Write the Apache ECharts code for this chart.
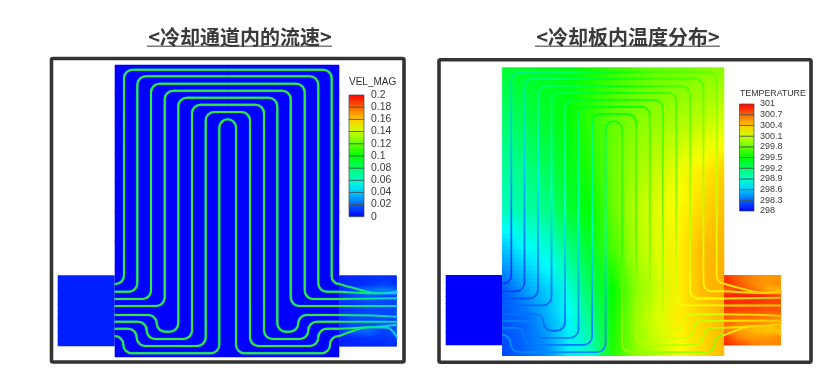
<!DOCTYPE html>
<html>
<head>
<meta charset="utf-8">
<style>
  html, body { margin: 0; padding: 0; background: #fff; }
  #chart { width: 831px; height: 375px; }
</style>
<script src="https://cdn.jsdelivr.net/npm/echarts@6/dist/echarts.min.js"></script>
</head>
<body>
<div id="chart"></div>
<script>
// legend tick labels, bottom to top
const velTicks = ['0', '0.02', '0.04', '0.06', '0.08', '0.1', '0.12', '0.14', '0.16', '0.18', '0.2'];
const tempTicks = ['298', '298.3', '298.6', '298.9', '299.2', '299.5', '299.8', '300.1', '300.4', '300.7', '301'];

// model extent: inlet 0-57, plate 57-281.6, outlet 281.6-339, height 0-292.6
const inletX = [0, 57];
const portY = [210.6, 281.6];
const plateX = [57, 79.5, 102, 124.4, 146.8, 169.3, 191.8, 214.2, 236.6, 259.1, 281.6];
const plateY = [0, 53, 104, 145, 185, 226, 256, 292.6];
const outletX = [281.6, 296, 310, 325, 339];
const outletY = [210.6, 219.5, 225.5, 231.5, 238.5, 245.5, 252.5, 259.5, 266.5, 273.5, 281.6];

// temperature
const tempPlate = [
  [299.35, 299.4, 299.42, 299.45, 299.55, 299.65, 299.73, 299.8, 299.82, 299.87, 299.9],
  [299.18, 299.27, 299.38, 299.47, 299.65, 299.8, 299.88, 299.94, 300, 300.05, 300.12],
  [299.05, 299.1, 299.25, 299.42, 299.58, 299.82, 299.97, 300.08, 300.2, 300.3, 300.38],
  [298.95, 299, 299.1, 299.35, 299.5, 299.8, 300.03, 300.17, 300.27, 300.37, 300.44],
  [298.55, 298.73, 298.85, 299.1, 299.4, 299.7, 300, 300.15, 300.3, 300.45, 300.47],
  [298.25, 298.45, 298.6, 298.85, 299.25, 299.5, 299.9, 300.1, 300.3, 300.45, 300.5],
  [298.25, 298.3, 298.5, 298.72, 299.1, 299.55, 299.95, 300.15, 300.3, 300.37, 300.47],
  [298.2, 298.3, 298.4, 298.7, 298.9, 299.6, 299.9, 300.05, 300.25, 300.35, 300.45]
];
const tempOutlet = [
  [300.85, 300.7, 300.6, 300.55, 300.55],
  [300.9, 300.75, 300.6, 300.55, 300.6],
  [300.7, 300.8, 300.7, 300.5, 300.45],
  [300.9, 300.9, 300.9, 300.85, 300.8],
  [300.9, 300.85, 300.85, 300.8, 300.8],
  [300.85, 300.8, 300.8, 300.75, 300.75],
  [300.75, 300.7, 300.7, 300.65, 300.65],
  [300.7, 300.6, 300.6, 300.55, 300.5],
  [300.65, 300.55, 300.45, 300.4, 300.45],
  [300.85, 300.6, 300.55, 300.55, 300.6],
  [300.9, 300.8, 300.65, 300.6, 300.6]
];
const tempInlet = [[298, 298], [298, 298]];

// velocity
const velPlate = [[0, 0], [0, 0]];
const velInlet = [[0.006, 0.006], [0.006, 0.006]];
const velOutlet = [
  [0.006, 0.008, 0.009, 0.01, 0.008],
  [0.007, 0.008, 0.009, 0.012, 0.009],
  [0.008, 0.014, 0.022, 0.026, 0.022],
  [0.01, 0.014, 0.018, 0.014, 0.014],
  [0.01, 0.011, 0.014, 0.014, 0.014],
  [0.01, 0.011, 0.014, 0.014, 0.014],
  [0.01, 0.014, 0.014, 0.014, 0.014],
  [0.01, 0.014, 0.014, 0.018, 0.014],
  [0.01, 0.018, 0.022, 0.012, 0.018],
  [0.007, 0.008, 0.01, 0.01, 0.012],
  [0.006, 0.007, 0.007, 0.008, 0.008]
];

// cooling channels, one leg from each side up to the middle of the top run
const leftLegs = [
  [[57, 219.3], [66.3, 219.3], [66.3, 5], [170, 5]],
  [[57, 227], [79.6, 227], [79.6, 11.6], [170, 11.6]],
  [[57, 234.3], [93.3, 234.3], [93.3, 19], [170, 19]],
  [[57, 241.3], [107, 241.3], [107, 26], [170, 26]],
  [[57, 250.3], [99, 250.3], [99, 267], [120.6, 267], [120.6, 33], [170, 33]],
  [[57, 257], [89, 257], [89, 274.3], [134.3, 274.3], [134.3, 40], [170, 40]],
  [[57, 264], [79, 264], [79, 281.3], [148, 281.3], [148, 47.3], [170, 47.3]],
  [[57, 271.3], [65.6, 271.3], [65.6, 288.6], [161.6, 288.6], [161.6, 54.6], [170, 54.6]]
];
const rightLegs = [
  [[281.6, 219.3], [274, 219.3], [274, 5], [170, 5]],
  [[281.6, 227], [260.6, 227], [260.6, 11.6], [170, 11.6]],
  [[281.6, 234.3], [247, 234.3], [247, 19], [170, 19]],
  [[281.6, 241.3], [233, 241.3], [233, 26], [170, 26]],
  [[281.6, 250.3], [240.6, 250.3], [240.6, 267], [219.6, 267], [219.6, 33], [170, 33]],
  [[281.6, 257], [250.6, 257], [250.6, 274.3], [206.3, 274.3], [206.3, 40], [170, 40]],
  [[281.6, 264], [260.6, 264], [260.6, 281.3], [192.3, 281.3], [192.3, 47.3], [170, 47.3]],
  [[281.6, 271.3], [272.3, 271.3], [272.3, 288.6], [178.3, 288.6], [178.3, 54.6], [170, 54.6]]
];
// streams leaving through the outlet
const outletStreams = [
  [[281.6, 219.3], [297, 223.6], [320, 228.6], [339, 227]],
  [[281.6, 227], [320, 228.6], [339, 228.6]],
  [[281.6, 234.3], [339, 233.6]],
  [[281.6, 241.3], [339, 241.3]],
  [[281.6, 250.3], [320, 251], [339, 252]],
  [[281.6, 257], [339, 257]],
  [[281.6, 264], [320, 262], [339, 260.3]],
  [[281.6, 271.3], [290, 268], [310, 262.5], [330, 263], [339, 272]]
];

// coolant temperature along each leg: near the port, halfway, corner, top middle
const coolantLeftPort = [298.15, 298.2, 298.25, 298.3, 298.3, 298.35, 298.35, 298.4];
const coolantLeftHalf = [298.55, 298.6, 298.7, 298.8, 298.85, 298.9, 298.95, 299];
const coolantRightPort = [300.3, 300.28, 300.25, 300.2, 300.15, 300.1, 300.05, 299.95];
const coolantRightHalf = [300.05, 300, 299.95, 299.9, 299.85, 299.8, 299.75, 299.65];
const coolantLeftCorner = 299.2;
const coolantRightCorner = 299.7;
const coolantMiddle = 299.45;

const rainbow = [[0, [0, 0, 255]], [0.25, [0, 255, 255]], [0.5, [0, 255, 0]], [0.75, [255, 255, 0]], [1, [255, 0, 0]]];

function rainbowColor(t) {
  t = Math.max(0, Math.min(1, t));
  for (let i = 1; i < rainbow.length; i++) {
    if (t <= rainbow[i][0]) {
      const a = rainbow[i - 1], b = rainbow[i];
      const f = (t - a[0]) / (b[0] - a[0]);
      const c = a[1].map((v, k) => Math.round(v + (b[1][k] - v) * f));
      return 'rgb(' + c.join(',') + ')';
    }
  }
  return 'rgb(255,0,0)';
}
const velColor = v => rainbowColor(v / 0.2);
const tempColor = v => rainbowColor((v - 298) / 3);

// smooth shading of one field block: strips down the rows, gradient along the columns
function fieldRender(patches, colorOf) {
  return function (params, api) {
    const p = patches[api.value(0)];
    const children = [];
    const x0 = api.coord([p.x[0], 0])[0];
    const x1 = api.coord([p.x[p.x.length - 1], 0])[0];
    const steps = 10;
    for (let r = 0; r < p.y.length - 1; r++) {
      for (let s = 0; s < steps; s++) {
        const f = s / steps;
        const yA = api.coord([0, p.y[r] + (p.y[r + 1] - p.y[r]) * f])[1];
        const yB = api.coord([0, p.y[r] + (p.y[r + 1] - p.y[r]) * (f + 1 / steps)])[1];
        const last = r === p.y.length - 2 && s === steps - 1;
        const stops = p.x.map((x, c) => ({
          offset: (x - p.x[0]) / (p.x[p.x.length - 1] - p.x[0]),
          color: colorOf(p.v[r][c] + (p.v[r + 1][c] - p.v[r][c]) * (f + 0.5 / steps))
        }));
        children.push({
          type: 'rect',
          shape: { x: x0, y: yA, width: x1 - x0, height: yB - yA + (last ? 0 : 1) },
          style: { fill: { type: 'linear', x: 0, y: 0, x2: 1, y2: 0, colorStops: stops } }
        });
      }
    }
    return { type: 'group', children: children };
  };
}

function roundedPath(pts, radius) {
  let d = 'M' + pts[0][0] + ' ' + pts[0][1];
  for (let i = 1; i < pts.length - 1; i++) {
    const a = pts[i - 1], b = pts[i], c = pts[i + 1];
    const lenIn = Math.hypot(b[0] - a[0], b[1] - a[1]);
    const lenOut = Math.hypot(c[0] - b[0], c[1] - b[1]);
    const r = Math.min(radius, i === 1 ? lenIn : lenIn / 2, i === pts.length - 2 ? lenOut : lenOut / 2);
    const s = [b[0] + (a[0] - b[0]) * r / lenIn, b[1] + (a[1] - b[1]) * r / lenIn];
    const e = [b[0] + (c[0] - b[0]) * r / lenOut, b[1] + (c[1] - b[1]) * r / lenOut];
    const k = 0.55;
    d += 'L' + s[0] + ' ' + s[1];
    d += 'C' + (s[0] + (b[0] - s[0]) * k) + ' ' + (s[1] + (b[1] - s[1]) * k) + ' ' +
      (e[0] + (b[0] - e[0]) * k) + ' ' + (e[1] + (b[1] - e[1]) * k) + ' ' + e[0] + ' ' + e[1];
  }
  const end = pts[pts.length - 1];
  return d + 'L' + end[0] + ' ' + end[1];
}

const allLegs = leftLegs.concat(rightLegs);

function legRender(strokeOf, width, blur) {
  return function (params, api) {
    const i = api.value(0);
    const pts = allLegs[i].map(p => api.coord(p));
    return {
      type: 'path',
      shape: { pathData: roundedPath(pts, 8.5) },
      style: { fill: 'none', stroke: strokeOf(i, pts), lineWidth: width, shadowBlur: blur.size, shadowColor: blur.color }
    };
  };
}

// the gradient runs from the bottom of the long vertical run to the top middle
function coolantStroke(i, pts) {
  const side = i < 8 ? 0 : 1;
  const k = i % 8;
  const end = pts[pts.length - 1];
  const vx = pts[pts.length - 2][0];
  const bottom = Math.max.apply(null, pts.map(p => p[1]));
  const temps = side === 0
    ? [coolantLeftPort[k], coolantLeftHalf[k], coolantLeftCorner, coolantMiddle]
    : [coolantRightPort[k], coolantRightHalf[k], coolantRightCorner, coolantMiddle];
  return {
    type: 'linear', global: true, x: vx, y: bottom, x2: end[0], y2: end[1],
    colorStops: [0, 0.5, 0.92, 1].map((o, n) => ({ offset: o, color: tempColor(temps[n]) }))
  };
}

function bandRender(colorOf) {
  return function (params, api) {
    const i = api.value(0);
    const a = api.coord([0, i]);
    const b = api.coord([1, i + 1]);
    return {
      type: 'rect',
      shape: { x: a[0], y: b[1], width: b[0] - a[0], height: a[1] - b[1] },
      style: {
        fill: { type: 'linear', x: 0, y: 1, x2: 0, y2: 0, colorStops: [
          { offset: 0, color: colorOf(i / 10) },
          { offset: 1, color: colorOf((i + 1) / 10) }
        ] },
        stroke: '#3c4a48', lineWidth: 0.7
      }
    };
  };
}

const velPatches = [
  { x: inletX, y: portY, v: velInlet },
  { x: [57, 281.6], y: [0, 292.6], v: velPlate },
  { x: outletX, y: outletY, v: velOutlet }
];
const tempPatches = [
  { x: inletX, y: portY, v: tempInlet },
  { x: plateX, y: plateY, v: tempPlate },
  { x: outletX, y: outletY, v: tempOutlet }
];

const legIds = allLegs.map((l, i) => [i]);
const green = () => '#34e83e';
const velGradient = new echarts.graphic.LinearGradient(0, 0, 1, 0, [
  { offset: 0, color: '#34e83e' },
  { offset: 0.55, color: '#00e890' },
  { offset: 1, color: '#20c0ff' }
]);
const tempGradient = new echarts.graphic.LinearGradient(0, 0, 1, 0, [
  { offset: 0, color: '#ffe600' },
  { offset: 0.5, color: '#ffd800' },
  { offset: 1, color: '#ffc400' }
]);

function streamSeries(axis, gradient) {
  return outletStreams.map(s => ({
    type: 'line', xAxisIndex: axis, yAxisIndex: axis, data: s, symbol: 'none', smooth: 0.3,
    silent: true, z: 4, lineStyle: { color: gradient, width: 2, cap: 'round' }
  }));
}

const chart = echarts.init(document.getElementById('chart'), null, { renderer: 'canvas' });

const hiddenX = (i, max) => ({ type: 'value', gridIndex: i, show: false, min: 0, max: max });
const hiddenY = (i, max) => ({ type: 'value', gridIndex: i, show: false, min: 0, max: max, inverse: true });
const legendY = (i, labels, size, margin) => ({
  type: 'value', gridIndex: i, position: 'right', min: 0, max: 10, interval: 1,
  axisLine: { show: false }, axisTick: { show: false }, splitLine: { show: false },
  axisLabel: { formatter: v => labels[v], fontFamily: 'Liberation Sans', fontSize: size, color: '#3a3a3a', margin: margin }
});

chart.setOption({
  backgroundColor: '#fff',
  animation: false,
  title: [
    { text: '<冷却通道内的流速>', left: 235, top: 22, textAlign: 'center',
      textStyle: { fontFamily: 'Noto Sans CJK SC', fontSize: 20, fontWeight: 'bold', color: '#3a3a3a' } },
    { text: '<冷却板内温度分布>', left: 623, top: 22, textAlign: 'center',
      textStyle: { fontFamily: 'Noto Sans CJK SC', fontSize: 20, fontWeight: 'bold', color: '#3a3a3a' } }
  ],
  grid: [
    { left: 57.7, top: 64.7, width: 339, height: 292.6 },
    { left: 445.7, top: 67.3, width: 335.3, height: 288.7 },
    { left: 349, top: 95, width: 15, height: 121.7 },
    { left: 739.5, top: 104, width: 14.5, height: 107 }
  ],
  xAxis: [
    hiddenX(0, 339), hiddenX(1, 339),
    hiddenX(2, 1), hiddenX(3, 1)
  ],
  yAxis: [
    hiddenY(0, 292.6), hiddenY(1, 292.6),
    legendY(2, velTicks, 10.4, 7), legendY(3, tempTicks, 9, 6)
  ],
  series: [
    { type: 'custom', xAxisIndex: 0, yAxisIndex: 0, z: 2, silent: true, data: [[0], [1], [2]],
      renderItem: fieldRender(velPatches, velColor) },
    { type: 'custom', xAxisIndex: 0, yAxisIndex: 0, z: 3, silent: true, data: legIds,
      renderItem: legRender(green, 2, { size: 1, color: '#00d090' }) },
    { type: 'custom', xAxisIndex: 1, yAxisIndex: 1, z: 2, silent: true, data: [[0], [1], [2]],
      renderItem: fieldRender(tempPatches, tempColor) },
    { type: 'custom', xAxisIndex: 1, yAxisIndex: 1, z: 3, silent: true, data: legIds,
      renderItem: legRender(coolantStroke, 1.8, { size: 0, color: 'transparent' }) },
    { type: 'custom', xAxisIndex: 2, yAxisIndex: 2, z: 3, silent: true, data: velTicks.slice(1).map((t, i) => [i]),
      encode: { y: 0 }, renderItem: bandRender(rainbowColor) },
    { type: 'custom', xAxisIndex: 3, yAxisIndex: 3, z: 3, silent: true, data: tempTicks.slice(1).map((t, i) => [i]),
      encode: { y: 0 }, renderItem: bandRender(rainbowColor) }
  ].concat(streamSeries(0, velGradient), streamSeries(1, tempGradient)),
  graphic: [
    { type: 'rect', shape: { x: 51.5, y: 58.5, width: 352.5, height: 303.5, r: 1.5 },
      style: { fill: 'none', stroke: '#333', lineWidth: 3.6 }, z: 10 },
    { type: 'rect', shape: { x: 439, y: 59.8, width: 372, height: 302.5, r: 1.5 },
      style: { fill: 'none', stroke: '#333', lineWidth: 3.6 }, z: 10 },
    { type: 'rect', shape: { x: 147, y: 45.5, width: 185, height: 1.6 }, style: { fill: '#777' } },
    { type: 'rect', shape: { x: 535, y: 45.5, width: 185, height: 1.6 }, style: { fill: '#777' } },
    { type: 'text', x: 349, y: 82.3, style: { text: 'VEL_MAG', fontFamily: 'Liberation Sans', fontSize: 10, fill: '#333', verticalAlign: 'middle' } },
    { type: 'text', x: 740, y: 93.3, style: { text: 'TEMPERATURE', fontFamily: 'Liberation Sans', fontSize: 8.8, fill: '#333', verticalAlign: 'middle' } }
  ]
});
</script>
</body>
</html>
